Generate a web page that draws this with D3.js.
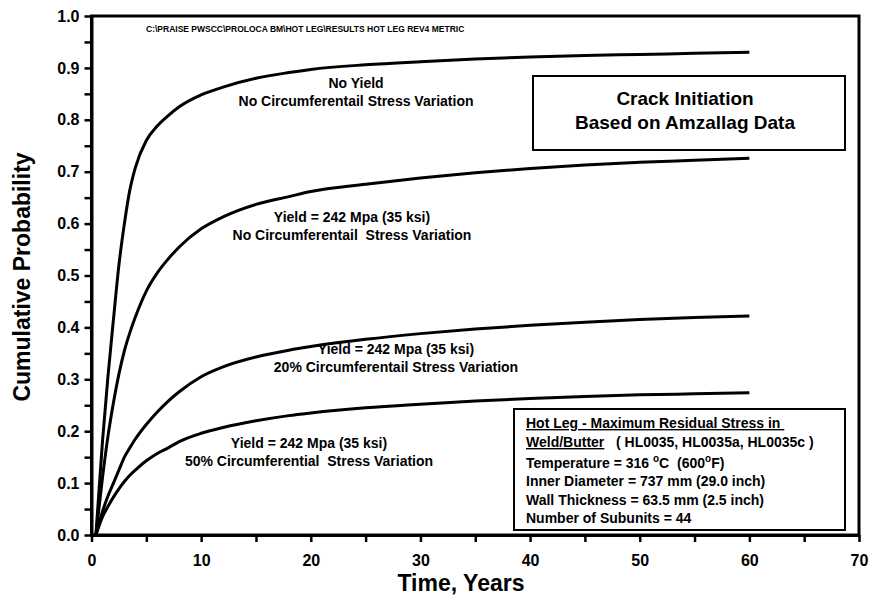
<!DOCTYPE html>
<html>
<head>
<meta charset="utf-8">
<script src="https://cdn.jsdelivr.net/npm/d3@7"></script>
<style>
  html, body { margin: 0; padding: 0; background: #fff; }
  svg text { font-family: "Liberation Sans", Arial, sans-serif; font-weight: bold; fill: #000; }
</style>
</head>
<body>
<svg id="chart" width="869" height="601"></svg>
<script>
// Time axis (years) shared by all four curves
const years = [0.4, 1, 1.5, 2, 2.5, 3, 3.5, 4, 5, 6, 7, 8, 10, 12, 15, 18, 20, 25, 30, 35, 40, 45, 50, 55, 60];

// Cumulative probability of crack initiation for each case
const noYieldNoVar  = [0, 0.18, 0.305, 0.415, 0.52, 0.6, 0.665, 0.708, 0.76, 0.788, 0.808, 0.825, 0.848, 0.863, 0.88, 0.891, 0.897, 0.906, 0.912, 0.917, 0.921, 0.924, 0.926, 0.928, 0.93];
const yieldNoVar    = [0, 0.11, 0.19, 0.255, 0.31, 0.355, 0.39, 0.42, 0.47, 0.505, 0.532, 0.555, 0.59, 0.613, 0.637, 0.652, 0.662, 0.676, 0.688, 0.698, 0.706, 0.713, 0.718, 0.722, 0.726];
const yield20Var    = [0, 0.045, 0.075, 0.10, 0.125, 0.15, 0.168, 0.185, 0.213, 0.237, 0.258, 0.276, 0.305, 0.324, 0.343, 0.356, 0.363, 0.377, 0.388, 0.397, 0.404, 0.41, 0.415, 0.419, 0.422];
const yield50Var    = [0, 0.035, 0.055, 0.073, 0.089, 0.103, 0.115, 0.125, 0.143, 0.157, 0.168, 0.18, 0.196, 0.207, 0.22, 0.23, 0.235, 0.245, 0.252, 0.258, 0.263, 0.267, 0.27, 0.272, 0.274];

// Axis ticks
const xTicks = [0, 10, 20, 30, 40, 50, 60, 70];
const xMinorTicks = [5, 15, 25, 35, 45, 55, 65];
const yTicks = [0, 0.1, 0.2, 0.3, 0.4, 0.5, 0.6, 0.7, 0.8, 0.9, 1.0];
const yMinorTicks = [0.05, 0.15, 0.25, 0.35, 0.45, 0.55, 0.65, 0.75, 0.85, 0.95];

// Curve annotations
const curveLabels = [
  ["No Yield", "No Circumferentail Stress Variation"],
  ["Yield = 242 Mpa (35 ksi)", "No Circumferentail  Stress Variation"],
  ["Yield = 242 Mpa (35 ksi)", "20% Circumferentail Stress Variation"],
  ["Yield = 242 Mpa (35 ksi)", "50% Circumferential  Stress Variation"]
];
const filePath = "C:\\PRAISE PWSCC\\PROLOCA BM\\HOT LEG\\RESULTS HOT LEG REV4 METRIC";
const titleLines = ["Crack Initiation", "Based on Amzallag Data"];
const infoLines = [
  "Temperature = 316 |C  (600|F)",
  "Inner Diameter = 737 mm (29.0 inch)",
  "Wall Thickness = 63.5 mm (2.5 inch)",
  "Number of Subunits = 44"
];

const svg = d3.select("#chart");
const x = d3.scaleLinear().domain([0, 70]).range([91.5, 859]);
const y = d3.scaleLinear().domain([0, 1]).range([535, 16]);

// Minor ticks
svg.append("g").attr("transform", `translate(0,${y(0)})`)
  .call(d3.axisBottom(x).tickValues(xMinorTicks).tickSize(7).tickFormat(""))
  .call(g => g.select(".domain").remove())
  .call(g => g.selectAll("line").attr("stroke-width", 2.5));
svg.append("g").attr("transform", `translate(${x(0)},0)`)
  .call(d3.axisLeft(y).tickValues(yMinorTicks).tickSize(7).tickFormat(""))
  .call(g => g.select(".domain").remove())
  .call(g => g.selectAll("line").attr("stroke-width", 2.5));

// Major axes
const xAxis = svg.append("g").attr("transform", `translate(0,${y(0)})`)
  .call(d3.axisBottom(x).tickValues(xTicks).tickSize(7).tickSizeOuter(0).tickPadding(13).tickFormat(d3.format("d")));
const yAxis = svg.append("g").attr("transform", `translate(${x(0)},0)`)
  .call(d3.axisLeft(y).tickValues(yTicks).tickSize(7).tickSizeOuter(0).tickPadding(5).tickFormat(d3.format(".1f")));
[xAxis, yAxis].forEach(g => {
  g.select(".domain").attr("stroke-width", 3);
  g.selectAll(".tick line").attr("stroke-width", 2.5);
  g.selectAll(".tick text").style("font-size", "16px").style("font-family", "'Liberation Sans', Arial, sans-serif").style("font-weight", "bold");
});

// Plot frame
svg.append("rect")
  .attr("x", x(0)).attr("y", y(1))
  .attr("width", x(70) - x(0)).attr("height", y(0) - y(1))
  .attr("fill", "none").attr("stroke", "#000").attr("stroke-width", 3);

// Curves
const line = d3.line().x(d => x(d[0])).y(d => y(d[1])).curve(d3.curveMonotoneX);
[noYieldNoVar, yieldNoVar, yield20Var, yield50Var].forEach(vals => {
  svg.append("path")
    .datum(years.map((t, i) => [t, vals[i]]))
    .attr("d", line)
    .attr("fill", "none").attr("stroke", "#000").attr("stroke-width", 3)
    .attr("stroke-linejoin", "round");
});

// Curve labels
const labelPos = [[356, 88], [352, 222], [396, 354], [309, 448]];
curveLabels.forEach((lines, i) => {
  const t = svg.append("text").attr("text-anchor", "middle").style("font-size", "14px").style("white-space", "pre");
  lines.forEach((s, j) => {
    t.append("tspan").attr("x", labelPos[i][0]).attr("y", labelPos[i][1] + j * 18).text(s);
  });
});

// File path note
svg.append("text").attr("x", 146).attr("y", 32).style("font-size", "8.5px").text(filePath);

// Title box
svg.append("rect").attr("x", 533).attr("y", 76).attr("width", 312).attr("height", 74)
  .attr("fill", "#fff").attr("stroke", "#000").attr("stroke-width", 2);
titleLines.forEach((s, j) => {
  svg.append("text").attr("x", 685).attr("y", 105 + j * 24).attr("text-anchor", "middle")
    .style("font-size", "19px").text(s);
});

// Info box
svg.append("rect").attr("x", 514).attr("y", 409).attr("width", 331).attr("height", 121)
  .attr("fill", "#fff").attr("stroke", "#000").attr("stroke-width", 2);
const info = svg.append("g").style("font-size", "14px");
info.append("text").attr("x", 526).attr("y", 428).style("text-decoration", "underline").style("white-space", "pre")
  .text("Hot Leg - Maximum Residual Stress in ");
const weld = info.append("text").attr("x", 526).attr("y", 447).style("white-space", "pre");
weld.append("tspan").style("text-decoration", "underline").text("Weld/Butter");
weld.append("tspan").text("   ( HL0035, HL0035a, HL0035c )");
infoLines.forEach((s, j) => {
  const t = info.append("text").attr("x", 526).attr("y", 468 + j * 18.3).style("white-space", "pre");
  s.split("|").forEach((part, k) => {
    if (k > 0) t.append("tspan").attr("dy", -6).style("font-size", "10px").text("o");
    t.append("tspan").attr("dy", k > 0 ? 6 : 0).text(part);
  });
});

// Axis titles
svg.append("text").attr("x", 461).attr("y", 591).attr("text-anchor", "middle")
  .style("font-size", "23px").text("Time, Years");
svg.append("text").attr("transform", "translate(30,277) rotate(-90)").attr("text-anchor", "middle")
  .style("font-size", "23px").text("Cumulative Probability");
</script>
</body>
</html>
